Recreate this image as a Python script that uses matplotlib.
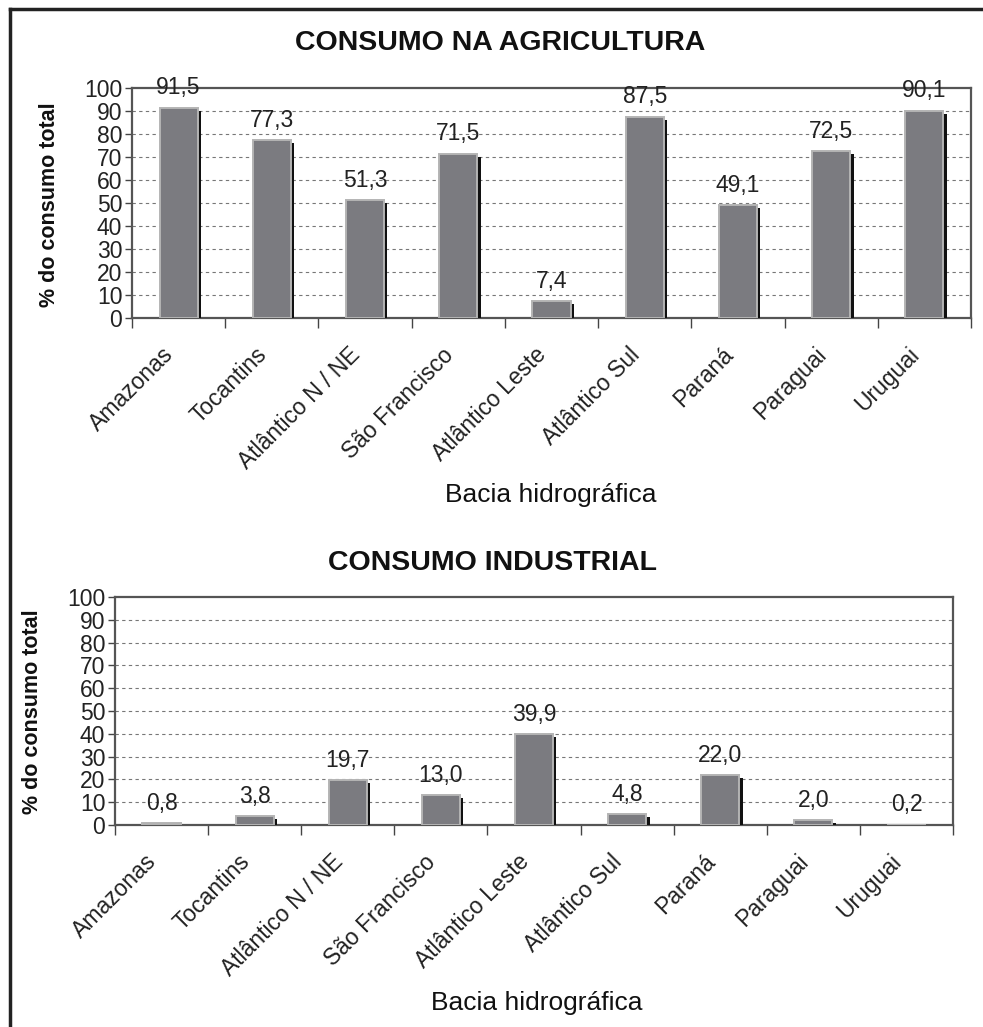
import matplotlib
matplotlib.use("Agg")
import matplotlib.pyplot as plt
import matplotlib.patheffects as pe
import matplotlib.transforms as mtrans
from matplotlib.lines import Line2D
import numpy as np

categories = ["Amazonas", "Tocantins", "Atlântico N / NE", "São Francisco",
              "Atlântico Leste", "Atlântico Sul", "Paraná", "Paraguai", "Uruguai"]
agricultura = [91.5, 77.3, 51.3, 71.5, 7.4, 87.5, 49.1, 72.5, 90.1]
industrial = [0.8, 3.8, 19.7, 13.0, 39.9, 4.8, 22.0, 2.0, 0.2]
yticks = [0, 10, 20, 30, 40, 50, 60, 70, 80, 90, 100]
title_agri = "CONSUMO NA AGRICULTURA"
title_ind = "CONSUMO INDUSTRIAL"
xlabel = "Bacia hidrográfica"
ylabel = "% do consumo total"

plt.rcParams['font.family'] = ['Liberation Sans', 'DejaVu Sans']

W, H = 983, 1027
fig = plt.figure(figsize=(W / 100, H / 100), dpi=100)

def px(x0, y0, x1, y1):
    return [x0 / W, 1 - y1 / H, (x1 - x0) / W, (y1 - y0) / H]

def draw(ax, values):
    x = np.arange(len(categories))
    bars = ax.bar(x, values, width=0.41, color="#7b7b80", edgecolor="#b4b4b4",
                  linewidth=1.4, zorder=3)
    for b in bars:
        b.set_path_effects([pe.SimplePatchShadow(offset=(2.4, -2.2), shadow_rgbFace="#111111", alpha=1.0),
                            pe.Normal()])
    for xi, v in zip(x, values):
        ax.annotate(f"{v:.1f}".replace(".", ","), (xi, v), xytext=(0, 6),
                    textcoords="offset points", ha="center", va="bottom",
                    fontsize=16.5, color="#222222", zorder=4)
    ax.set_xlim(-0.5, len(categories) - 0.5)
    ax.set_ylim(0, 100)
    ax.set_yticks(yticks)
    ax.set_yticklabels([str(t) for t in yticks], fontsize=16.5, color="#222222")
    ax.tick_params(axis="y", length=5, width=1, color="#444444", pad=2)
    ax.set_xticks(np.arange(len(categories) + 1) - 0.5)
    ax.set_xticklabels([])
    ax.set_xticks(x, minor=True)
    ax.set_xticklabels(categories, minor=True, rotation=45, ha="right", va="center",
                       rotation_mode="anchor", fontsize=16.5, color="#222222")
    ax.tick_params(axis="x", which="major", length=7, width=1, color="#444444")
    ax.tick_params(axis="x", which="minor", length=0, pad=24)
    shift = mtrans.ScaledTranslation(-8.5 / 100, 0, fig.dpi_scale_trans)
    for lab in ax.get_xticklabels(minor=True):
        lab.set_transform(lab.get_transform() + shift)
    for t in yticks[1:-1]:
        ax.axhline(t, color="#777777", linewidth=0.8, linestyle=(0, (3, 3)), zorder=1)
    for s in ax.spines.values():
        s.set_color("#555555")
        s.set_linewidth(1.6)
    ax.set_facecolor("white")

ax1 = fig.add_axes(px(132, 88, 971, 318))
draw(ax1, agricultura)
ax2 = fig.add_axes(px(115, 597, 953, 825))
draw(ax2, industrial)

fig.text(500 / W, 1 - 43 / H, title_agri, ha="center", va="center", fontsize=20.5,
         fontweight="bold", color="#111111")
fig.text(493 / W, 1 - 563 / H, title_ind, ha="center", va="center", fontsize=20.5,
         fontweight="bold", color="#111111")
fig.text(551 / W, 1 - 495 / H, xlabel, ha="center", va="center", fontsize=19, color="#111111")
fig.text(537 / W, 1 - 1003 / H, xlabel, ha="center", va="center", fontsize=19, color="#111111")
fig.text(50 / W, 1 - 205 / H, ylabel, ha="center", va="center", rotation=90, fontsize=15.5,
         fontweight="bold", color="#111111")
fig.text(33 / W, 1 - 712 / H, ylabel, ha="center", va="center", rotation=90, fontsize=15.5,
         fontweight="bold", color="#111111")

# outer frame (left and top edges)
fig.add_artist(Line2D([10 / W, 10 / W], [0, 1 - 9 / H], transform=fig.transFigure,
                      color="#222222", linewidth=2.5))
fig.add_artist(Line2D([10 / W, 1], [1 - 9 / H, 1 - 9 / H], transform=fig.transFigure,
                      color="#222222", linewidth=2.5))

fig.savefig("out.png", dpi=100)
